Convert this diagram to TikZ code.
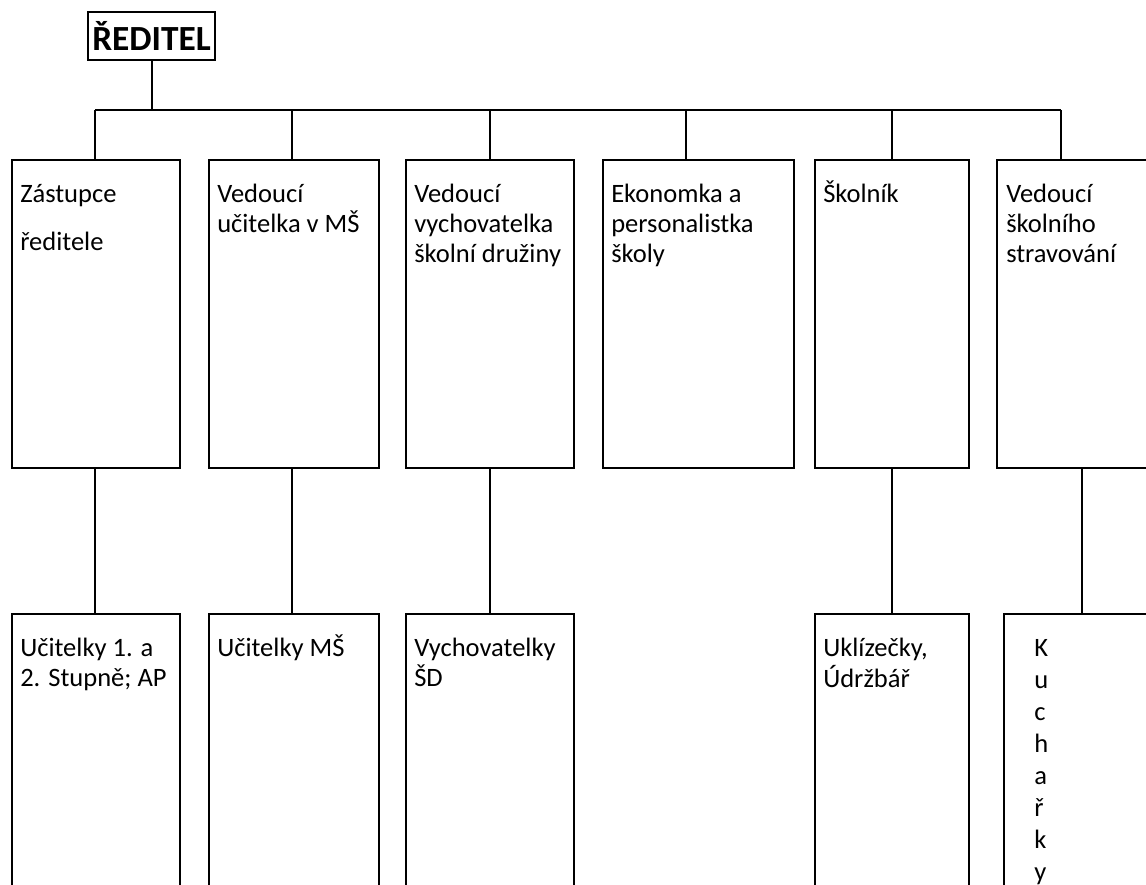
\documentclass[tikz,border=0pt]{standalone}
\usepackage{fontspec}
\setmainfont{Carlito}
\usetikzlibrary{calc}

\newcommand{\orglines}[1]{\begin{tabular}[t]{@{}l@{}}#1\end{tabular}}

\tikzset{
	orgbox/.style={draw, line width=1.5pt, inner sep=0pt, anchor=north west},
	orgtext/.style={anchor=base west, inner sep=0pt,
		font=\fontsize{19.9}{22.5}\selectfont},
	orgline/.style={line width=1.5pt}
}

\begin{document}
\begin{tikzpicture}[x=0.75pt, y=-0.75pt]
			%%%%% START %%%%%
			\useasboundingbox (0, 0) rectangle (1146, 885);
			\fill[white] (0, 0) rectangle (1146, 885);
			\clip (0, 0) rectangle (1146, 885);
			
			\node[draw, line width=1.5pt, inner sep=0pt, minimum width=95.25pt, minimum height=36pt,
				font=\fontsize{26.5}{30}\selectfont\bfseries] (ceo) at (151.5, 36) {ŘEDITEL};
			
			% upper row
			\node[orgbox, minimum width=126pt, minimum height=231pt] (t1) at (11, 159) {};
			\node[orgbox, minimum width=127.5pt, minimum height=231pt] (t2) at (208, 159) {};
			\node[orgbox, minimum width=126pt, minimum height=231pt] (t3) at (405, 159) {};
			\node[orgbox, minimum width=143.25pt, minimum height=231pt] (t4) at (602, 159) {};
			\node[orgbox, minimum width=115.5pt, minimum height=231pt] (t5) at (814, 159) {};
			\node[orgbox, minimum width=135pt, minimum height=231pt] (t6) at (996, 159) {};
			
			\node[orgtext] (t1txt) at (20, 202) {\orglines{Zástupce\\[13.7pt]ředitele}};
			\node[orgtext] (t2txt) at (217, 202) {\orglines{Vedoucí\\učitelka v MŠ}};
			\node[orgtext] (t3txt) at (414, 202) {\orglines{Vedoucí\\vychovatelka\\školní družiny}};
			\node[orgtext] (t4txt) at (611, 202) {\orglines{Ekonomka a\\personalistka\\školy}};
			\node[orgtext] (t5txt) at (823, 202) {\orglines{Školník}};
			\node[orgtext] (t6txt) at (1006, 202) {\orglines{Vedoucí\\školního\\stravování}};
			
			% lower row
			\node[orgbox, minimum width=126pt, minimum height=225pt] (b1) at (11, 613) {};
			\node[orgbox, minimum width=127.5pt, minimum height=225pt] (b2) at (208, 613) {};
			\node[orgbox, minimum width=126pt, minimum height=225pt] (b3) at (405, 613) {};
			\node[orgbox, minimum width=115.5pt, minimum height=225pt] (b5) at (814, 613) {};
			\node[orgbox, minimum width=135pt, minimum height=225pt] (b6) at (1003, 613) {};
			
			\node[orgtext] (b1txt) at (20, 656) {\orglines{Učitelky 1. a\\2. Stupně; AP}};
			\node[orgtext] (b2txt) at (217, 656) {\orglines{Učitelky MŠ}};
			\node[orgtext] (b3txt) at (414, 656) {\orglines{Vychovatelky\\ŠD}};
			\node[orgtext] (b5txt) at (823, 656) {\orglines{Uklízečky,\\Údržbář}};
			\node[orgtext, font=\fontsize{19.9}{24}\selectfont] (b6txt) at (1034, 656)
				{\orglines{K\\u\\c\\h\\a\\ř\\k\\y}};
			
			% connectors
			\coordinate (d1) at (95, 110);
			\coordinate (d2) at (292, 110);
			\coordinate (d3) at (490, 110);
			\coordinate (d4) at (686, 110);
			\coordinate (d5) at (892, 110);
			\coordinate (d6) at (1061, 110);
			\coordinate (e6) at (1082, 467);
			
			\draw[orgline] (ceo.south) -- (ceo.south |- d1);
			\draw[orgline] (d1) -- (d6);
			\foreach \i in {1,...,6}
				\draw[orgline] (d\i) -- (d\i |- t\i.north);
			
			\draw[orgline] (d1 |- t1.south) -- (d1 |- b1.north);
			\draw[orgline] (d2 |- t2.south) -- (d2 |- b2.north);
			\draw[orgline] (d3 |- t3.south) -- (d3 |- b3.north);
			\draw[orgline] (d5 |- t5.south) -- (d5 |- b5.north);
			\draw[orgline] (e6 |- t6.south) -- (e6 |- b6.north);
			
			%%%%% END %%%%%
\end{tikzpicture}
\end{document}
